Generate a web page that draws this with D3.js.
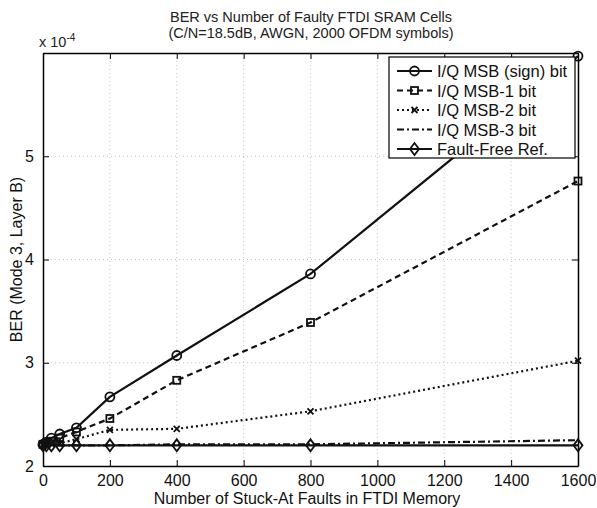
<!DOCTYPE html>
<html>
<head>
<meta charset="utf-8">
<script src="https://cdn.jsdelivr.net/npm/d3@7"></script>
<style>
  body { margin: 0; background: #fff; }
  svg { font-family: "Liberation Sans", Arial, sans-serif; }
</style>
</head>
<body>
<svg id="drawing_region"></svg>
<script>
// faults injected (x) and BER values in units of 1e-4
const faults = [0, 10, 25, 50, 100, 200, 400, 800, 1600];
const berMsb  = [2.21, 2.23, 2.27, 2.31, 2.37, 2.67, 3.07, 3.86, 5.97];
const berMsb1 = [2.21, 2.22, 2.24, 2.27, 2.33, 2.46, 2.83, 3.39, 4.76];
const berMsb2 = [2.21, 2.21, 2.22, 2.22, 2.26, 2.35, 2.36, 2.53, 3.02];
const berMsb3 = [2.20, 2.20, 2.20, 2.20, 2.20, 2.20, 2.21, 2.21, 2.25];
const berRef  = [2.20, 2.20, 2.20, 2.20, 2.20, 2.20, 2.20, 2.20, 2.20];
const seriesNames = ["I/Q MSB (sign) bit", "I/Q MSB-1 bit", "I/Q MSB-2 bit", "I/Q MSB-3 bit", "Fault-Free Ref."];
const xTicks = [0, 200, 400, 600, 800, 1000, 1200, 1400, 1600];
const yTicks = [2, 3, 4, 5];

const series = [
    {name: seriesNames[0], values: berMsb,  dash: null,      marker: 'circle'},
    {name: seriesNames[1], values: berMsb1, dash: '6,4',     marker: 'square'},
    {name: seriesNames[2], values: berMsb2, dash: '2,3',     marker: 'x'},
    {name: seriesNames[3], values: berMsb3, dash: '7,3,2,3', marker: null},
    {name: seriesNames[4], values: berRef,  dash: null,      marker: 'diamond'}
];

const W = 597, H = 508;
const m = {left: 43, right: 19, top: 53, bottom: 42};
const iw = W - m.left - m.right, ih = H - m.top - m.bottom;

const svg = d3.select('#drawing_region').attr('width', W).attr('height', H);

const x = d3.scaleLinear().domain([0, 1600]).range([m.left, m.left + iw]);
const y = d3.scaleLinear().domain([2, 6]).range([m.top + ih, m.top]);

// grid
const grid = svg.append('g');
grid.selectAll('.gx').data(xTicks.slice(1, -1)).enter().append('line')
    .attr('x1', d => x(d)).attr('x2', d => x(d))
    .attr('y1', m.top).attr('y2', m.top + ih)
    .attr('stroke', '#c8c8c8').attr('stroke-width', 1).attr('stroke-dasharray', '1,3');
grid.selectAll('.gy').data(yTicks.slice(1)).enter().append('line')
    .attr('x1', m.left).attr('x2', m.left + iw)
    .attr('y1', d => y(d)).attr('y2', d => y(d))
    .attr('stroke', '#c8c8c8').attr('stroke-width', 1).attr('stroke-dasharray', '1,3');

// axes (MATLAB style, ticks inward, box)
const fs = '16px';
const fmt = d3.format('d');
const xAx = svg.append('g').attr('transform', `translate(0,${m.top + ih})`)
    .call(d3.axisBottom(x).tickValues(xTicks).tickFormat(fmt).tickSize(-6).tickPadding(9).tickSizeOuter(0));
const xTop = svg.append('g').attr('transform', `translate(0,${m.top})`)
    .call(d3.axisTop(x).tickValues(xTicks).tickSize(-6).tickFormat('').tickSizeOuter(0));
const yAx = svg.append('g').attr('transform', `translate(${m.left},0)`)
    .call(d3.axisLeft(y).tickValues(yTicks).tickFormat(fmt).tickSize(-6).tickPadding(9).tickSizeOuter(0));
const yRight = svg.append('g').attr('transform', `translate(${m.left + iw},0)`)
    .call(d3.axisRight(y).tickValues(yTicks).tickSize(-6).tickFormat('').tickSizeOuter(0));
[xAx, xTop, yAx, yRight].forEach(g => {
    g.selectAll('path').attr('stroke', '#000').attr('stroke-width', 1.5);
    g.selectAll('line').attr('stroke', '#000').attr('stroke-width', 1);
    g.selectAll('text').attr('font-size', fs).attr('font-family', '"Liberation Sans", Arial, sans-serif').attr('fill', '#111');
});

// lines
const line = d3.line().x((d, i) => x(faults[i])).y(d => y(d));
const plot = svg.append('g');

function drawMarker(g, type, cx, cy) {
    if (type === 'circle') {
        g.append('circle').attr('cx', cx).attr('cy', cy).attr('r', 4.5)
            .attr('fill', 'none').attr('stroke', '#111').attr('stroke-width', 1.8);
    } else if (type === 'square') {
        g.append('rect').attr('x', cx - 3.5).attr('y', cy - 3.5).attr('width', 7).attr('height', 7)
            .attr('fill', 'none').attr('stroke', '#111').attr('stroke-width', 1.8);
    } else if (type === 'x') {
        g.append('path').attr('d', `M${cx-3},${cy-3}L${cx+3},${cy+3}M${cx-3},${cy+3}L${cx+3},${cy-3}`)
            .attr('stroke', '#111').attr('stroke-width', 1.8);
    } else if (type === 'diamond') {
        g.append('path').attr('d', `M${cx},${cy-6}L${cx+4.5},${cy}L${cx},${cy+6}L${cx-4.5},${cy}Z`)
            .attr('fill', 'none').attr('stroke', '#111').attr('stroke-width', 1.8);
    }
}

series.forEach(s => {
    plot.append('path').datum(s.values)
        .attr('d', line)
        .attr('fill', 'none').attr('stroke', '#111').attr('stroke-width', 2.2)
        .attr('stroke-dasharray', s.dash);
    if (s.marker) {
        s.values.forEach((v, i) => drawMarker(plot, s.marker, x(faults[i]), y(v)));
    }
});

// legend
const lg = svg.append('g');
const lx = 389, ly = 57, lw = 186, lh = 101;
lg.append('rect').attr('x', lx).attr('y', ly).attr('width', lw).attr('height', lh)
    .attr('fill', '#fff').attr('stroke', '#000').attr('stroke-width', 1.2);
series.forEach((s, i) => {
    const yy = ly + 14 + i * 19.5;
    lg.append('line').attr('x1', lx + 8).attr('x2', lx + 43).attr('y1', yy).attr('y2', yy)
        .attr('stroke', '#111').attr('stroke-width', 2.2).attr('stroke-dasharray', s.dash);
    if (s.marker) drawMarker(lg, s.marker, lx + 25.5, yy);
    lg.append('text').attr('x', lx + 48).attr('y', yy + 6).attr('font-size', '16.5px').attr('fill', '#111')
        .text(s.name);
});

// titles and labels
svg.append('text').attr('x', 311).attr('y', 22).attr('text-anchor', 'middle')
    .attr('font-size', '14.5px').attr('fill', '#222').text('BER vs Number of Faulty FTDI SRAM Cells');
svg.append('text').attr('x', 311).attr('y', 38).attr('text-anchor', 'middle')
    .attr('font-size', '14.5px').attr('fill', '#222').text('(C/N=18.5dB, AWGN, 2000 OFDM symbols)');
const ex = svg.append('text').attr('x', 39).attr('y', 47).attr('font-size', '14.5px').attr('fill', '#222');
ex.append('tspan').text('x 10');
ex.append('tspan').attr('dy', -6).attr('font-size', '10px').text('-4');
svg.append('text').attr('x', 307).attr('y', 504).attr('text-anchor', 'middle')
    .attr('font-size', '16px').attr('fill', '#111').text('Number of Stuck-At Faults in FTDI Memory');
svg.append('text').attr('transform', `translate(22,${m.top + ih / 2}) rotate(-90)`)
    .attr('text-anchor', 'middle').attr('font-size', '16px').attr('fill', '#111')
    .text('BER (Mode 3, Layer B)');
</script>
</body>
</html>
